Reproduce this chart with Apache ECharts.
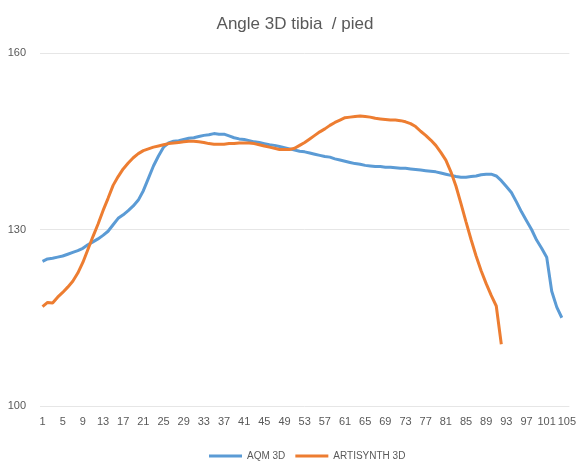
<!DOCTYPE html>
<html>
<head>
<meta charset="utf-8">
<script src="https://cdn.jsdelivr.net/npm/echarts@6/dist/echarts.min.js"></script>
<style>html,body{margin:0;padding:0;background:#fff}#c{width:579px;height:461px}</style>
</head>
<body>
<div id="c"></div>
<script>
var categories = [];
for (var k = 1; k <= 105; k++) categories.push(String(k));

var aqm3d = [124.6,125.0,125.1,125.3,125.5,125.8,126.1,126.4,126.8,127.4,
127.9,128.4,129.0,129.7,130.8,131.9,132.5,133.2,134.0,135.0,
136.6,138.7,140.8,142.5,144.0,144.7,145.0,145.1,145.3,145.5,
145.6,145.8,146.0,146.1,146.3,146.2,146.2,145.9,145.6,145.4,
145.3,145.1,144.9,144.8,144.6,144.4,144.3,144.1,143.9,143.7,
143.5,143.3,143.2,143.0,142.8,142.6,142.4,142.3,142.0,141.8,
141.6,141.4,141.2,141.1,140.9,140.8,140.7,140.7,140.6,140.6,
140.5,140.4,140.4,140.3,140.2,140.1,140.0,139.9,139.8,139.6,
139.4,139.2,139.0,138.9,138.9,139.0,139.1,139.3,139.4,139.4,
139.1,138.3,137.3,136.3,134.7,133.0,131.5,130.0,128.2,126.8,
125.3,119.5,116.8,115.0];

var artisynth3d = [116.9,117.6,117.5,118.5,119.3,120.2,121.2,122.6,124.4,126.6,
128.8,130.9,133.2,135.3,137.5,139.0,140.3,141.3,142.2,142.9,
143.4,143.7,144.0,144.2,144.4,144.6,144.7,144.8,144.9,145.0,
145.0,144.9,144.8,144.6,144.5,144.5,144.5,144.6,144.6,144.7,
144.7,144.7,144.6,144.4,144.2,144.0,143.8,143.6,143.6,143.6,
143.8,144.3,144.8,145.4,146.0,146.6,147.1,147.7,148.2,148.6,
149.0,149.1,149.2,149.3,149.2,149.1,148.9,148.8,148.7,148.6,
148.6,148.5,148.3,148.0,147.5,146.7,146.0,145.2,144.3,143.1,
141.8,139.8,137.4,134.4,131.3,128.3,125.5,123.0,120.8,118.8,
117.0,110.5];

var yMin = 100, yMax = 160, yStep = 30;

var chart = echarts.init(document.getElementById('c'), null, {renderer: 'canvas'});
var font = 'Liberation Sans';
chart.setOption({
  animation: false,
  backgroundColor: '#ffffff',
  title: {
    text: 'Angle 3D tibia  / pied',
    left: 290, top: 11, textAlign: 'center',
    textStyle: {fontFamily: font, fontSize: 17, fontWeight: 'normal', color: '#595959'}
  },
  legend: {
    top: 446, left: 204,
    icon: 'rect', itemWidth: 33, itemHeight: 3, itemGap: 10,
    textStyle: {fontFamily: font, fontSize: 10, color: '#595959'},
    data: ['AQM 3D', 'ARTISYNTH 3D']
  },
  grid: {left: 40, right: 4, top: 53, bottom: 55, containLabel: false},
  xAxis: {
    type: 'category', data: categories, boundaryGap: true,
    axisLine: {show: false}, axisTick: {show: false},
    axisLabel: {interval: 3, fontFamily: font, fontSize: 11, color: '#595959', margin: 10}
  },
  yAxis: {
    type: 'value', min: yMin, max: yMax, interval: yStep,
    axisLine: {show: false}, axisTick: {show: false},
    axisLabel: {fontFamily: font, fontSize: 11, color: '#595959', margin: 14},
    splitLine: {lineStyle: {color: '#E6E6E6', width: 1}}
  },
  series: [
    {name: 'AQM 3D', type: 'line', data: aqm3d, symbol: 'none', smooth: false,
     lineStyle: {color: '#5B9BD5', width: 3}, itemStyle: {color: '#5B9BD5'}},
    {name: 'ARTISYNTH 3D', type: 'line', data: artisynth3d, symbol: 'none', smooth: false,
     lineStyle: {color: '#ED7D31', width: 3}, itemStyle: {color: '#ED7D31'}}
  ]
});
</script>
</body>
</html>
